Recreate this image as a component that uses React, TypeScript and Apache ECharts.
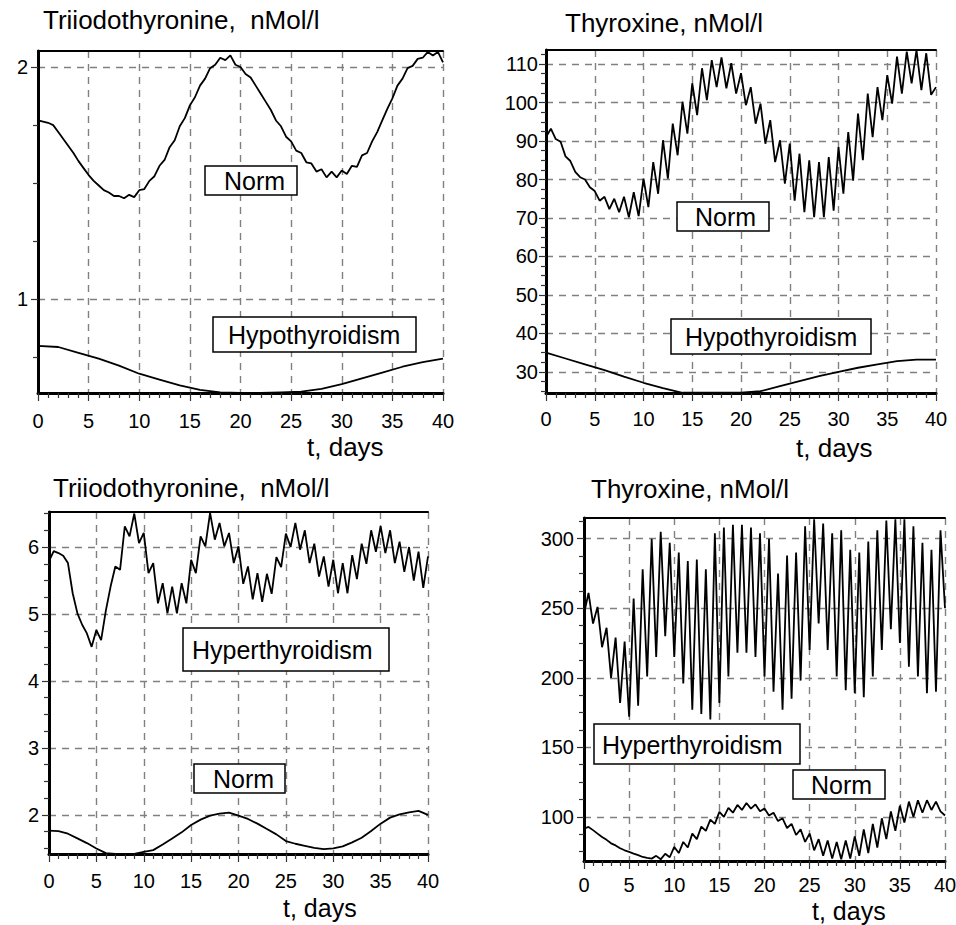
import React, { useEffect, useRef } from "react";
import * as echarts from "echarts";

const FONT = '"Liberation Sans", Arial, Helvetica, sans-serif';

// ---------- data (t in days) ----------
const FINE_STEP = 0.5; // days between samples of oscillating curves
const SMOOTH_STEP = 2; // days between samples of the hypothyroid curves
const NORM_T3_BOTTOM_STEP = 1;

// Top-left: Triiodothyronine, nMol/l
const t3NormTop = [
  1.77, 1.765, 1.76, 1.75, 1.72, 1.69, 1.66, 1.63, 1.595, 1.565,
  1.535, 1.51, 1.49, 1.47, 1.46, 1.445, 1.445, 1.435, 1.45, 1.44,
  1.47, 1.475, 1.51, 1.53, 1.575, 1.6, 1.655, 1.685, 1.745, 1.78,
  1.835, 1.87, 1.92, 1.95, 1.995, 2.01, 2.04, 2.03, 2.05, 2.01,
  2.0, 1.97, 1.955, 1.92, 1.885, 1.85, 1.815, 1.77, 1.745, 1.7,
  1.68, 1.64, 1.63, 1.59, 1.585, 1.55, 1.56, 1.525, 1.55, 1.525,
  1.555, 1.54, 1.575, 1.57, 1.62, 1.63, 1.68, 1.72, 1.77, 1.82,
  1.865, 1.92, 1.95, 1.995, 2.005, 2.035, 2.04, 2.065, 2.05, 2.065,
  2.02,
];
const t3HypoTop = [
  0.8, 0.795, 0.77, 0.745, 0.715, 0.68, 0.655, 0.63, 0.61, 0.6, 0.597,
  0.597, 0.6, 0.603, 0.615, 0.635, 0.66, 0.685, 0.71, 0.73, 0.745,
];

// Top-right: Thyroxine, nMol/l
const t4NormTop = [
  91, 93.2, 90.5, 89.8, 86, 84.8, 82, 80.6, 80, 78,
  77, 74.5, 75.5, 72.3, 75, 71.5, 75.5, 70.2, 76.7, 70.5,
  80.2, 72.8, 84.5, 76.3, 90.2, 80.2, 94.5, 86.3, 100.2, 91.9,
  105, 96.7, 108.9, 100.6, 111, 104, 111.7, 103.7, 110.2, 102.3,
  107.6, 99.3, 104, 94.5, 99.7, 89.3, 95.4, 84.5, 90.2, 78.9,
  89.3, 74.5, 86.7, 71.5, 85, 70.2, 84.5, 70.2, 85.8, 71.9,
  88.4, 76.3, 92.3, 79.7, 97.1, 85, 102.3, 91, 104, 95.4,
  107.1, 99.7, 111.9, 102.3, 113.2, 105, 113.6, 103.2, 112.8, 102,
  104,
];
const t4HypoTop = [
  35, 33.5, 32, 30.5, 28.8, 27.2, 25.8, 24.6, 24.6, 24.6, 24.6,
  25, 26.3, 27.6, 28.9, 30, 31.1, 32, 32.8, 33.2, 33.2,
];

// Bottom-left: Triiodothyronine, nMol/l
const t3HyperBottom = [
  5.79, 5.94, 5.91, 5.87, 5.76, 5.31, 5.01, 4.84, 4.71, 4.51,
  4.76, 4.61, 5.05, 5.41, 5.71, 5.66, 6.31, 6.16, 6.5, 6.06,
  6.21, 5.61, 5.76, 5.16, 5.46, 5.01, 5.41, 5.01, 5.46, 5.16,
  5.81, 5.61, 6.16, 6.01, 6.51, 6.11, 6.36, 6.01, 6.21, 5.76,
  6.01, 5.45, 5.71, 5.22, 5.61, 5.18, 5.6, 5.3, 5.85, 5.7,
  6.2, 6.0, 6.36, 5.96, 6.25, 5.76, 6.05, 5.56, 5.86, 5.41,
  5.81, 5.31, 5.76, 5.31, 5.88, 5.52, 6.05, 5.75, 6.25, 5.93,
  6.31, 5.91, 6.25, 5.76, 6.08, 5.63, 6.0, 5.5, 5.93, 5.39,
  5.86,
];
const t3NormBottom = [
  1.765, 1.76, 1.72, 1.65, 1.58, 1.5, 1.43, 1.42, 1.42, 1.42,
  1.45, 1.475, 1.56, 1.65, 1.74, 1.85, 1.93, 1.99, 2.02, 2.035,
  1.99, 1.94, 1.87, 1.79, 1.71, 1.61, 1.57, 1.54, 1.51, 1.49,
  1.5, 1.53, 1.59, 1.66, 1.76, 1.87, 1.96, 2.01, 2.04, 2.06,
  2.0,
];

// Bottom-right: Thyroxine, nMol/l
const t4HyperBottom = [
  246, 261, 239, 251, 222, 236, 200, 229, 182, 226,
  172, 257, 180, 278, 201, 300, 215, 305, 230, 297,
  215, 290, 196, 284, 177, 285, 174, 278, 170, 304,
  182, 308, 201, 310, 218, 310, 218, 308, 215, 304,
  201, 300, 190, 275, 177, 288, 185, 290, 198, 309,
  220, 314, 239, 311, 220, 304, 201, 306, 191, 292,
  189, 290, 186, 298, 201, 306, 220, 313, 235, 314,
  225, 314, 208, 309, 201, 297, 189, 292, 190, 306,
  250,
];
const t4NormBottom = [
  91.5, 92.8, 90.5, 88, 85.5, 83.5, 81, 79.5, 77.5, 76,
  74.8, 73.6, 72.5, 71.2, 70.5, 70, 72, 69.5, 73.5, 71,
  78.4, 74, 82, 78, 88, 84, 93, 90, 98, 95,
  103.6, 100, 106.5, 103, 108.6, 105, 110, 106, 109, 104,
  106, 101, 103, 97, 99, 92, 95, 87, 91, 82,
  88, 76, 84, 72, 83, 70, 82, 69.5, 83, 70,
  86, 72, 91, 74, 95, 78, 99, 84, 104, 90,
  108, 96, 111, 100, 112, 103, 112, 105, 111, 104,
  101,
];

// axis ticks / labels
const X_MIN = 0;
const X_MAX = 40;
const X_INTERVAL = 5;

const yMajorTL = [1, 2];
const yMinorTL = [0.75, 1.25, 1.5, 1.75];
const yMajorTR = [30, 40, 50, 60, 70, 80, 90, 100, 110];
const yMinorTR = [
  25, 27.5, 32.5, 35, 37.5, 42.5, 45, 47.5, 52.5, 55, 57.5, 62.5, 65, 67.5,
  72.5, 75, 77.5, 82.5, 85, 87.5, 92.5, 95, 97.5, 102.5, 105, 107.5, 112.5,
];
const yMajorBL = [2, 3, 4, 5, 6];
const yMinorBL = [
  1.5, 1.75, 2.25, 2.5, 2.75, 3.25, 3.5, 3.75, 4.25, 4.5, 4.75, 5.25, 5.5,
  5.75, 6.25, 6.5,
];
const yMajorBR = [100, 150, 200, 250, 300];
const yMinorBR = [
  75, 87.5, 112.5, 125, 137.5, 162.5, 175, 187.5, 212.5, 225, 237.5, 262.5,
  275, 287.5, 312.5,
];

const T3_TITLE = "Triiodothyronine,  nMol/l";
const T4_TITLE = "Thyroxine, nMol/l";
const X_NAME = "t, days";

// ---------- layout ----------
type Line = { values: number[]; step: number };
type Panel = {
  rect: { left: number; top: number; width: number; height: number };
  yMin: number;
  yMax: number;
  yMajor: number[];
  yMinor: number[];
  lines: Line[];
  xLabelMargin: number;
  yLabelMargin: number;
};

const panels: Panel[] = [
  {
    rect: { left: 38, top: 51, width: 405, height: 342 },
    yMin: 0.597,
    yMax: 2.069,
    yMajor: yMajorTL,
    yMinor: yMinorTL,
    lines: [
      { values: t3NormTop, step: FINE_STEP },
      { values: t3HypoTop, step: SMOOTH_STEP },
    ],
    xLabelMargin: 18,
    yLabelMargin: 10,
  },
  {
    rect: { left: 546, top: 50, width: 390, height: 343 },
    yMin: 24.54,
    yMax: 113.64,
    yMajor: yMajorTR,
    yMinor: yMinorTR,
    lines: [
      { values: t4NormTop, step: FINE_STEP },
      { values: t4HypoTop, step: SMOOTH_STEP },
    ],
    xLabelMargin: 16,
    yLabelMargin: 8,
  },
  {
    rect: { left: 49, top: 512, width: 379, height: 342 },
    yMin: 1.417,
    yMax: 6.523,
    yMajor: yMajorBL,
    yMinor: yMinorBL,
    lines: [
      { values: t3HyperBottom, step: FINE_STEP },
      { values: t3NormBottom, step: NORM_T3_BOTTOM_STEP },
    ],
    xLabelMargin: 17,
    yLabelMargin: 10,
  },
  {
    rect: { left: 584, top: 518, width: 361, height: 343 },
    yMin: 68.3,
    yMax: 314.9,
    yMajor: yMajorBR,
    yMinor: yMinorBR,
    lines: [
      { values: t4HyperBottom, step: FINE_STEP },
      { values: t4NormBottom, step: FINE_STEP },
    ],
    xLabelMargin: 14,
    yLabelMargin: 10,
  },
];

function toPoints(values: number[], step: number) {
  return values.map((v, i) => [i * step, v]);
}

const GRID_LINE = { color: "#808080", width: 1.4, type: [7, 6] as number[] };
const TICK_LINE = { color: "#333", width: 1.2 };
const LABEL = { color: "#000", fontSize: 20, fontFamily: FONT };

function txt(text: string, x: number, y: number, size: number) {
  return {
    type: "text",
    x,
    y,
    z: 101,
    style: {
      text,
      fill: "#000",
      font: `${size}px ${FONT}`,
      fontSize: size,
      fontFamily: FONT,
      align: "left",
      verticalAlign: "middle",
      textAlign: "left",
      textVerticalAlign: "middle",
    },
  };
}

function box(text: string, bx: number, by: number, bw: number, bh: number, tx: number, size: number) {
  return [
    {
      type: "rect",
      z: 100,
      shape: { x: bx, y: by, width: bw, height: bh },
      style: { fill: "#fff", stroke: "#000", lineWidth: 1.5 },
    },
    txt(text, tx, by + bh / 2 + 0.5, size),
  ];
}

function buildOption() {
  const grid: any[] = [];
  const xAxis: any[] = [];
  const yAxis: any[] = [];
  const series: any[] = [];

  panels.forEach((p, i) => {
    const gMain = 2 * i;
    const gAux = 2 * i + 1;
    grid.push({ ...p.rect, show: false, containLabel: false, outerBoundsMode: "none" });
    grid.push({ ...p.rect, show: false, containLabel: false, outerBoundsMode: "none" });

    xAxis.push({
      type: "value",
      gridIndex: gMain,
      position: "bottom",
      min: X_MIN,
      max: X_MAX,
      interval: X_INTERVAL,
      axisLine: { show: true, onZero: false, lineStyle: { color: "#000", width: 3 } },
      axisTick: { show: true, inside: false, length: 8, lineStyle: TICK_LINE },
      minorTick: { show: true, splitNumber: 5, length: 5, lineStyle: TICK_LINE },
      axisLabel: { show: true, margin: p.xLabelMargin, ...LABEL },
      splitLine: { show: true, showMinLine: true, showMaxLine: true, lineStyle: GRID_LINE },
      minorSplitLine: { show: false },
    });
    xAxis.push({
      type: "value",
      gridIndex: gAux,
      position: "top",
      min: X_MIN,
      max: X_MAX,
      axisLine: { show: true, onZero: false, lineStyle: { color: "#000", width: 2 } },
      axisTick: { show: false },
      axisLabel: { show: false },
      splitLine: { show: false },
    });

    yAxis.push({
      type: "value",
      gridIndex: gMain,
      position: "left",
      min: p.yMin,
      max: p.yMax,
      axisLine: { show: true, onZero: false, lineStyle: { color: "#000", width: 3 } },
      axisTick: { show: true, length: 7, customValues: p.yMajor, lineStyle: TICK_LINE },
      axisLabel: { show: true, margin: p.yLabelMargin, customValues: p.yMajor, ...LABEL },
      splitLine: { show: true, lineStyle: GRID_LINE },
    });
    yAxis.push({
      type: "value",
      gridIndex: gAux,
      position: "left",
      min: p.yMin,
      max: p.yMax,
      axisLine: { show: false, onZero: false },
      axisTick: { show: true, length: 5, customValues: p.yMinor, lineStyle: TICK_LINE },
      axisLabel: { show: false },
      splitLine: { show: false },
    });

    p.lines.forEach((ln) => {
      series.push({
        type: "line",
        xAxisIndex: gMain,
        yAxisIndex: gMain,
        data: toPoints(ln.values, ln.step),
        showSymbol: false,
        symbol: "none",
        smooth: false,
        clip: true,
        z: 5,
        lineStyle: { color: "#000", width: 1.8 },
        emphasis: { disabled: true },
      });
    });
  });

  const elements: any[] = [
    txt(T3_TITLE, 43, 20, 26),
    txt(T4_TITLE, 565, 23, 26),
    txt(T3_TITLE, 53, 488, 26),
    txt(T4_TITLE, 591, 489, 26),
    txt(X_NAME, 307, 447, 26),
    txt(X_NAME, 796, 448, 26),
    txt(X_NAME, 283, 908, 25),
    txt(X_NAME, 812, 911, 25),
    ...box("Norm", 205, 166, 92, 29, 224, 25),
    ...box("Hypothyroidism", 213, 317, 203, 35, 228, 25),
    ...box("Norm", 677, 202, 92, 29, 695, 25),
    ...box("Hypothyroidism", 671, 319, 200, 35, 685, 25),
    ...box("Hyperthyroidism", 183, 628, 206, 43, 192, 25),
    ...box("Norm", 194, 764, 91, 29, 213, 25),
    ...box("Hyperthyroidism", 594, 724, 206, 40, 602, 25),
    ...box("Norm", 793, 770, 92, 29, 811, 25),
  ];

  return {
    animation: false,
    backgroundColor: "#fff",
    grid,
    xAxis,
    yAxis,
    series,
    graphic: { elements },
  };
}

export default function App() {
  const ref = useRef<HTMLDivElement>(null);
  useEffect(() => {
    if (!ref.current) return;
    const chart = echarts.init(ref.current, null, { renderer: "svg" });
    chart.setOption(buildOption() as any);
    return () => {
      chart.dispose();
    };
  }, []);
  return (
    <div
      ref={ref}
      style={{ position: "fixed", left: 0, top: 0, width: 956, height: 925, background: "#fff" }}
    />
  );
}
